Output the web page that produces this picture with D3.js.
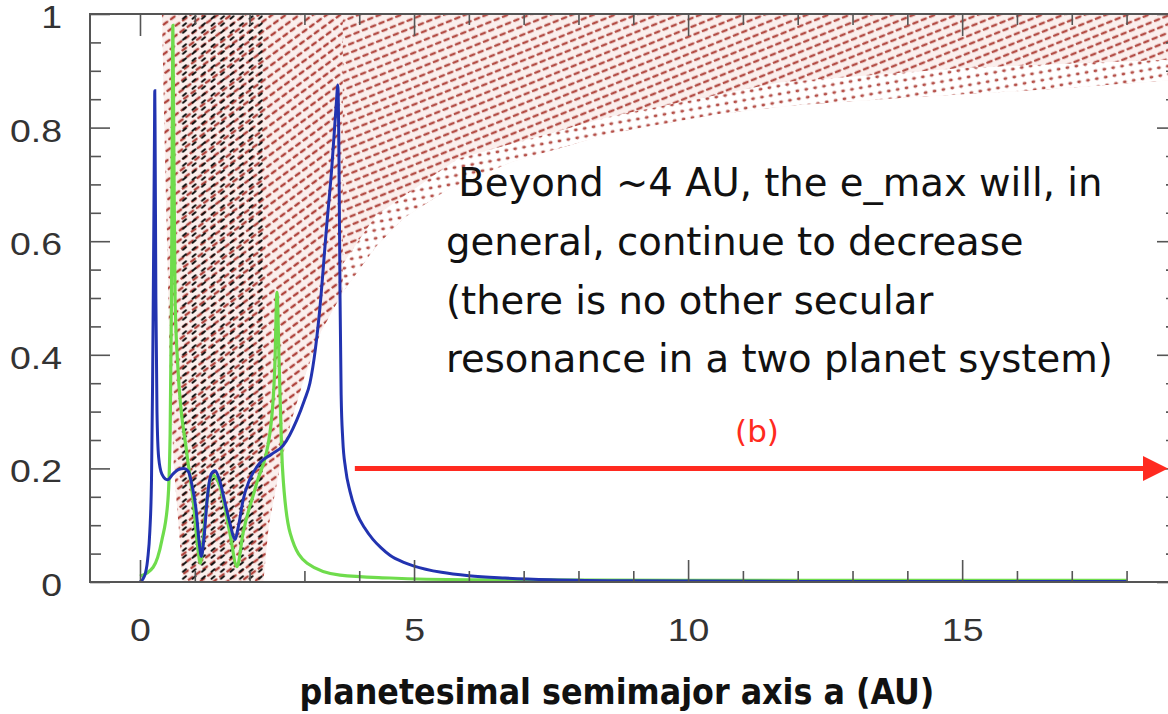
<!DOCTYPE html>
<html>
<head>
<meta charset="utf-8">
<script src="https://cdn.jsdelivr.net/npm/d3@7"></script>
<style>
  html, body { margin: 0; padding: 0; background: #fff; overflow: hidden; }
  svg { display: block; }
</style>
</head>
<body>
<svg id="chart" width="1168" height="714"></svg>
<script>
// ---- data: maximum eccentricity vs planetesimal semimajor axis ----
// blue curve [a (AU), e_max]
const blueCurve = [
  [0.00, 0.000], [0.08, 0.010], [0.14, 0.040], [0.18, 0.090], [0.21, 0.180],
  [0.23, 0.350], [0.25, 0.600], [0.265, 0.800], [0.27, 0.865], [0.275, 0.800],
  [0.29, 0.500], [0.31, 0.300], [0.34, 0.220], [0.40, 0.190], [0.50, 0.180],
  [0.60, 0.190], [0.70, 0.198], [0.80, 0.200], [0.88, 0.195], [0.95, 0.170],
  [1.02, 0.130], [1.08, 0.070], [1.12, 0.045], [1.17, 0.080], [1.23, 0.150],
  [1.30, 0.190], [1.37, 0.196], [1.45, 0.180], [1.55, 0.140], [1.65, 0.100],
  [1.73, 0.075], [1.80, 0.100], [1.88, 0.144], [2.00, 0.180], [2.19, 0.210],
  [2.40, 0.225], [2.61, 0.240], [2.86, 0.285], [3.00, 0.320], [3.10, 0.350],
  [3.20, 0.410], [3.28, 0.480], [3.40, 0.620], [3.50, 0.730], [3.58, 0.840],
  [3.61, 0.875], [3.63, 0.750], [3.65, 0.500], [3.67, 0.330], [3.70, 0.250],
  [3.75, 0.200], [3.83, 0.160], [3.96, 0.120], [4.10, 0.095], [4.25, 0.075],
  [4.40, 0.060], [4.56, 0.047], [4.80, 0.035], [5.00, 0.028], [5.50, 0.017],
  [6.00, 0.011], [6.66, 0.007], [7.50, 0.004], [9.00, 0.002], [12.0, 0.001],
  [18.0, 0.001]
];
// green curve [a (AU), e_max]
const greenCurve = [
  [0.00, 0.010], [0.24, 0.026], [0.40, 0.074], [0.51, 0.144], [0.55, 0.260],
  [0.575, 0.500], [0.59, 0.800], [0.60, 0.980], [0.615, 0.800], [0.64, 0.500],
  [0.69, 0.380], [0.85, 0.230], [0.97, 0.144], [1.06, 0.056], [1.10, 0.033],
  [1.19, 0.115], [1.28, 0.180], [1.33, 0.188], [1.46, 0.168], [1.64, 0.086],
  [1.77, 0.027], [1.88, 0.086], [2.13, 0.174], [2.37, 0.262], [2.46, 0.380],
  [2.50, 0.510], [2.54, 0.380], [2.60, 0.200], [2.74, 0.086], [3.05, 0.033],
  [3.65, 0.012], [4.56, 0.007], [6.00, 0.004], [10.0, 0.003], [18.0, 0.003]
];
// edges of the red dotted (unstable) zone
const redLeftEdge = [
  [0.40, 1.00], [0.46, 0.73], [0.51, 0.53], [0.55, 0.35], [0.62, 0.20],
  [0.72, 0.08], [0.78, 0.00]
];
const redLowerEdge = [
  [2.25, 0.00], [2.35, 0.10], [2.55, 0.20], [2.75, 0.28], [3.00, 0.36],
  [3.30, 0.44], [3.70, 0.51], [4.30, 0.59], [4.80, 0.64], [5.60, 0.69],
  [6.80, 0.74], [8.60, 0.79], [10.5, 0.823], [12.0, 0.84], [14.0, 0.853],
  [16.5, 0.867], [18.92, 0.884]
];
// upper edge of the sparser dot band just above redLowerEdge
const dotBandTop = [
  [3.70, 0.56], [4.30, 0.645], [5.80, 0.745], [8.60, 0.82], [11.7, 0.88],
  [15.0, 0.905], [18.92, 0.92]
];
// black dotted band (a range)
const blackBand = [0.75, 2.24];
// a where the hatch of the zone changes slope
const hatchSplit = 3.7;

const xMajorTicks = [0, 5, 10, 15];
const xMinorTicks = [1, 2, 3, 4, 6, 7, 8, 9, 11, 12, 13, 14, 16, 17, 18];
const yMajorTicks = [0, 0.2, 0.4, 0.6, 0.8, 1];
const yMinorTicks = [0.05, 0.1, 0.15, 0.25, 0.3, 0.35, 0.45, 0.5, 0.55,
                     0.65, 0.7, 0.75, 0.85, 0.9, 0.95];
const yTickLabels = ["0", "0.2", "0.4", "0.6", "0.8", "1"];

const noteLines = [
  " Beyond ~4 AU, the e_max will, in",
  "general, continue to decrease",
  "(there is no other secular",
  "resonance in a two planet system)"
];
const arrowSpan = [3.92, 18.92];   // a range of the (b) arrow
const arrowLevel = 0.2;            // e level of the (b) arrow
const arrowLabel = "(b)";
const xTitle = "planetesimal semimajor axis a (AU)";

// ---- layout ----
const svg = d3.select("#chart");
const plotL = 90, plotR = 1177, plotT = 14, plotB = 582;
const x = d3.scaleLinear().domain([-0.912, 18.92]).range([plotL, plotR]);
const y = d3.scaleLinear().domain([0, 1]).range([plotB, plotT]);
const eMax = y.domain()[1], aMax = x.domain()[1];

const RED = "#a8322a";
const TINT = "#fbefed";
const defs = svg.append("defs");

defs.append("clipPath").attr("id", "plotClip")
  .append("rect").attr("x", plotL).attr("y", plotT)
  .attr("width", plotR - plotL).attr("height", plotB - plotT);

function dashPattern(id, w, h, angle, x1, y1, x2, y2, color, width, opacity) {
  const p = defs.append("pattern").attr("id", id)
    .attr("patternUnits", "userSpaceOnUse").attr("width", w).attr("height", h)
    .attr("patternTransform", `rotate(${angle})`);
  p.append("line").attr("x1", x1).attr("y1", y1).attr("x2", x2).attr("y2", y2)
    .attr("stroke", color).attr("stroke-width", width).attr("stroke-linecap", "round")
    .attr("opacity", opacity);
}
// outer zone: gentle rows of dashes
dashPattern("redDiag", 9, 8, -22, 1, 4, 5.5, 4, RED, 2.3, 0.85);
// inner zone: steeper rows of dashes
dashPattern("redSteep", 9, 8, -36, 1, 4, 5.5, 4, RED, 2.3, 0.9);

// dot grid
const pDots = defs.append("pattern").attr("id", "redDots")
  .attr("patternUnits", "userSpaceOnUse").attr("width", 9).attr("height", 8)
  .attr("patternTransform", "rotate(-10)");
pDots.append("ellipse").attr("cx", 4.5).attr("cy", 4).attr("rx", 2).attr("ry", 1.4)
  .attr("fill", RED).attr("opacity", 0.85);

// black dotted columns
const pBlack = defs.append("pattern").attr("id", "blackCols")
  .attr("patternUnits", "userSpaceOnUse").attr("width", 9.5).attr("height", 7);
pBlack.append("line").attr("x1", 2.5).attr("y1", 4.8).attr("x2", 5.5).attr("y2", 2.2)
  .attr("stroke", "#111").attr("stroke-width", 2).attr("stroke-linecap", "round");

const plot = svg.append("g").attr("clip-path", "url(#plotClip)");
const poly = d3.line().x(d => x(d[0])).y(d => y(d[1]));

// lower edge value at the split, read along the edge
const splitIdx = redLowerEdge.findIndex(d => d[0] >= hatchSplit);
const eSplit = redLowerEdge[splitIdx][1];

// inner part of the red zone (a <= split)
const innerZone = []
  .concat(redLeftEdge)
  .concat(redLowerEdge.slice(0, splitIdx + 1))
  .concat([[hatchSplit, eMax], [redLeftEdge[0][0], eMax]]);
// outer part of the red zone (a >= split)
const outerZone = [[hatchSplit, eSplit]]
  .concat(redLowerEdge.slice(splitIdx + 1))
  .concat([[aMax, eMax], [hatchSplit, eMax]]);

const innerD = poly(innerZone) + "Z", outerD = poly(outerZone) + "Z";
plot.append("path").attr("d", innerD).attr("fill", TINT);
plot.append("path").attr("d", outerD).attr("fill", TINT);
plot.append("path").attr("d", innerD).attr("fill", "url(#redSteep)");
plot.append("path").attr("d", outerD).attr("fill", "url(#redDiag)");

// sparser dot band along the lower edge
const band = redLowerEdge.filter(d => d[0] >= dotBandTop[0][0])
  .concat(dotBandTop.slice().reverse());
plot.append("path").attr("d", poly(band) + "Z").attr("fill", "#fff");
plot.append("path").attr("d", poly(band) + "Z").attr("fill", "url(#redDots)");

// black dotted band
plot.append("rect")
  .attr("x", x(blackBand[0])).attr("y", y(1))
  .attr("width", x(blackBand[1]) - x(blackBand[0])).attr("height", y(0) - y(1))
  .attr("fill", "url(#blackCols)");

// curves
const line = d3.line().x(d => x(d[0])).y(d => y(d[1])).curve(d3.curveMonotoneX);
plot.append("path").datum(greenCurve).attr("d", line)
  .attr("fill", "none").attr("stroke", "#6fdc4c").attr("stroke-width", 3.2);
plot.append("path").datum(blueCurve).attr("d", line)
  .attr("fill", "none").attr("stroke", "#2233b0").attr("stroke-width", 3);

// ---- axes ----
const axisColor = "#555";
const tickFont = "'Liberation Sans', Arial, Helvetica, sans-serif";
function styleAxis(g) {
  g.select(".domain").remove();
  g.selectAll(".tick line").attr("stroke", axisColor).attr("stroke-width", 1.6);
  g.selectAll("text").attr("font-family", tickFont).attr("font-size", 32).attr("fill", "#333")
    .each(function () {
      // slightly wide lettering
      const w = this.getComputedTextLength();
      if (w > 0) d3.select(this).attr("textLength", w * 1.17).attr("lengthAdjust", "spacingAndGlyphs");
    });
}

svg.append("g").attr("transform", `translate(0,${plotB})`)
  .call(d3.axisBottom(x).tickValues(xMajorTicks).tickSizeInner(-22).tickSizeOuter(0)
        .tickPadding(36).tickFormat(d3.format("d")))
  .call(styleAxis);
svg.append("g").attr("transform", `translate(0,${plotB})`)
  .call(d3.axisBottom(x).tickValues(xMinorTicks).tickSizeInner(-11).tickSizeOuter(0).tickFormat(""))
  .call(styleAxis);
svg.append("g").attr("transform", `translate(0,${plotT})`)
  .call(d3.axisTop(x).tickValues(xMajorTicks).tickSizeInner(-22).tickSizeOuter(0).tickFormat(""))
  .call(styleAxis);
svg.append("g").attr("transform", `translate(0,${plotT})`)
  .call(d3.axisTop(x).tickValues(xMinorTicks).tickSizeInner(-11).tickSizeOuter(0).tickFormat(""))
  .call(styleAxis);

const yAxisG = svg.append("g").attr("transform", `translate(${plotL},0)`)
  .call(d3.axisLeft(y).tickValues(yMajorTicks).tickSizeInner(-20).tickSizeOuter(0)
        .tickPadding(28).tickFormat((d, i) => yTickLabels[i]))
  .call(styleAxis);
yAxisG.selectAll("text").attr("dy", "0.42em");
svg.append("g").attr("transform", `translate(${plotL},0)`)
  .call(d3.axisLeft(y).tickValues(yMinorTicks).tickSizeInner(-11).tickSizeOuter(0).tickFormat(""))
  .call(styleAxis);
svg.append("g").attr("transform", `translate(${plotR},0)`)
  .call(d3.axisRight(y).tickValues(yMajorTicks).tickSizeInner(-20).tickSizeOuter(0).tickFormat(""))
  .call(styleAxis);
svg.append("g").attr("transform", `translate(${plotR},0)`)
  .call(d3.axisRight(y).tickValues(yMinorTicks).tickSizeInner(-11).tickSizeOuter(0).tickFormat(""))
  .call(styleAxis);

// frame
svg.append("rect").attr("x", plotL).attr("y", plotT)
  .attr("width", plotR - plotL).attr("height", plotB - plotT)
  .attr("fill", "none").attr("stroke", axisColor).attr("stroke-width", 2);

// ---- x title ----
const title = svg.append("text").attr("x", 617).attr("y", 704)
  .attr("text-anchor", "middle")
  .attr("font-family", "'DejaVu Sans Condensed', 'DejaVu Sans', sans-serif")
  .attr("font-weight", "bold").attr("font-size", 33).attr("fill", "#111")
  .text(xTitle);
{
  const w = title.node().getComputedTextLength();
  title.attr("font-size", 33 * 635 / w);
}

// ---- annotation ----
const noteFont = "'Comic Sans MS', 'DejaVu Sans', sans-serif";
const note = svg.append("g");
const baselines = [196, 255, 314, 372];
noteLines.forEach((t, i) => {
  note.append("text").attr("x", 446).attr("y", baselines[i])
    .attr("font-family", noteFont).attr("font-size", 34).attr("fill", "#111")
    .style("white-space", "pre")
    .text(t);
});
{
  const w = note.selectAll("text").nodes()[3].getComputedTextLength();
  note.selectAll("text").attr("font-size", 34 * 667 / w);
}

// ---- (b) arrow ----
const ay = y(arrowLevel);
const ax0 = x(arrowSpan[0]), ax1 = Math.min(x(arrowSpan[1]), 1168);
svg.append("line").attr("x1", ax0).attr("y1", ay).attr("x2", ax1 - 20).attr("y2", ay)
  .attr("stroke", "#ff2a20").attr("stroke-width", 5);
svg.append("path")
  .attr("d", `M${ax1},${ay} L${ax1 - 25},${ay - 12.5} L${ax1 - 25},${ay + 12.5} Z`)
  .attr("fill", "#ff2a20");
svg.append("text").attr("x", 757).attr("y", 442).attr("text-anchor", "middle")
  .attr("font-family", noteFont).attr("font-size", 31).attr("fill", "#ff2a20")
  .text(arrowLabel);
</script>
</body>
</html>
